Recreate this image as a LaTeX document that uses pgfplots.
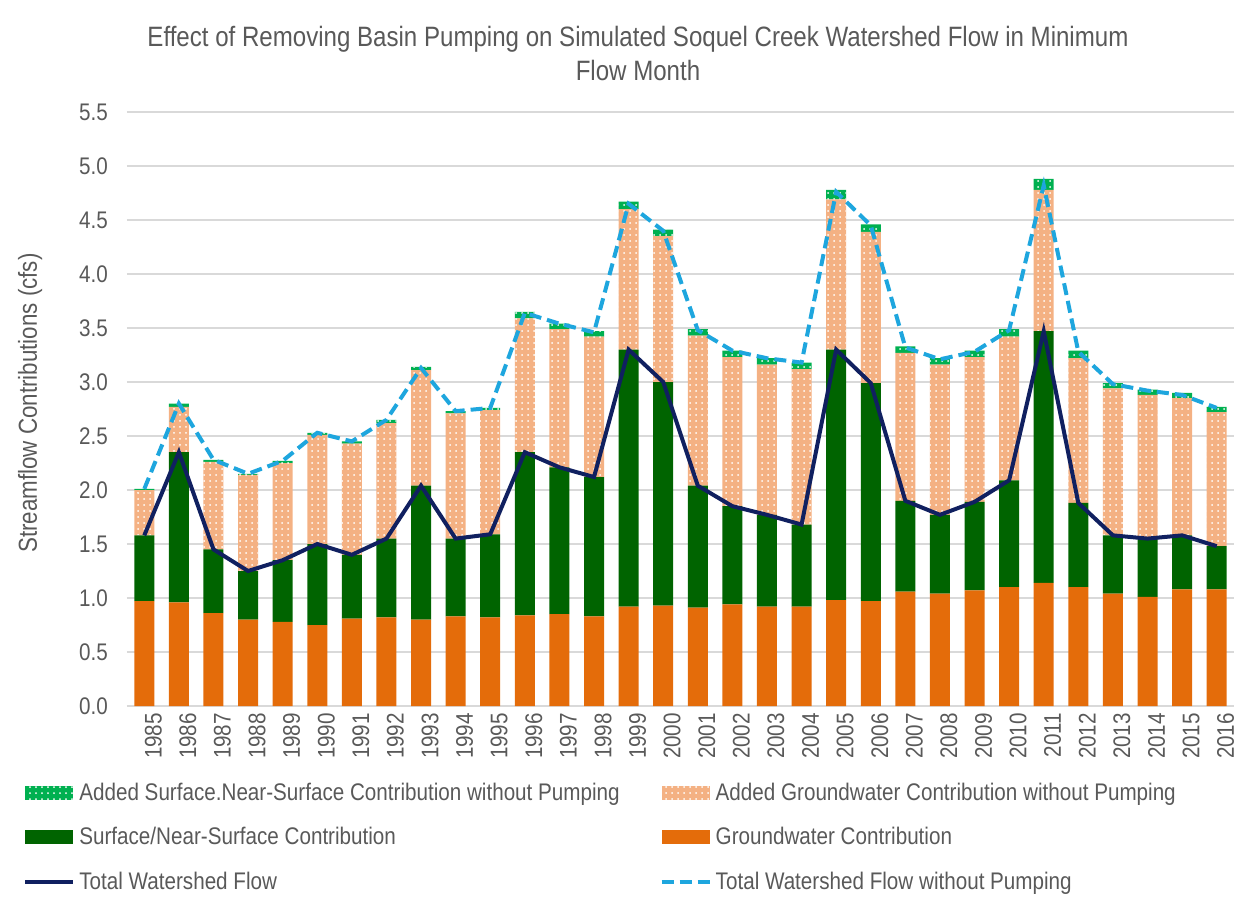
\documentclass[border=0pt]{standalone}
\usepackage{pgfplots}
\pgfplotsset{compat=1.18}
\usepackage{pgfplotstable}
\usetikzlibrary{patterns}
\usepackage{fontspec}
\setmainfont{Liberation Sans}[FakeStretch=0.86]

\definecolor{gwc}{RGB}{228,108,10}
\definecolor{swc}{RGB}{0,100,0}
\definecolor{peach}{RGB}{244,177,131}
\definecolor{addswc}{RGB}{0,176,80}
\definecolor{navy}{RGB}{16,32,96}
\definecolor{dashc}{RGB}{30,166,222}
\definecolor{txt}{RGB}{89,89,89}
\definecolor{gridc}{RGB}{217,217,217}

\pgfplotsset{
  barleg/.style={legend image code/.code={\fill[##1] (0pt,-3.5pt) rectangle (24pt,3.5pt);}},
  lineleg/.style={legend image code/.code={\draw[##1] (0pt,0pt) -- (24pt,0pt);}},
}

\pgfplotstableread{
x gw sw addgw addsw total nopump
0 0.97 0.61 0.42 0.01 1.58 2.01
1 0.96 1.39 0.42 0.03 2.35 2.80
2 0.86 0.59 0.81 0.02 1.45 2.28
3 0.80 0.45 0.89 0.01 1.25 2.15
4 0.78 0.57 0.90 0.02 1.35 2.27
5 0.75 0.75 1.01 0.02 1.50 2.53
6 0.81 0.59 1.03 0.02 1.40 2.45
7 0.82 0.73 1.07 0.03 1.55 2.65
8 0.80 1.24 1.07 0.03 2.04 3.13
9 0.83 0.72 1.16 0.02 1.55 2.73
10 0.82 0.77 1.15 0.02 1.59 2.76
11 0.84 1.51 1.24 0.06 2.35 3.64
12 0.85 1.36 1.28 0.05 2.21 3.54
13 0.83 1.29 1.30 0.05 2.12 3.46
14 0.92 2.38 1.30 0.07 3.30 4.65
15 0.93 2.07 1.35 0.06 3.00 4.40
16 0.91 1.13 1.39 0.06 2.04 3.48
17 0.94 0.91 1.38 0.06 1.85 3.29
18 0.92 0.85 1.39 0.06 1.77 3.22
19 0.92 0.76 1.44 0.06 1.68 3.18
20 0.98 2.32 1.39 0.09 3.30 4.76
21 0.97 2.02 1.40 0.07 2.99 4.45
22 1.06 0.84 1.37 0.06 1.90 3.32
23 1.04 0.73 1.39 0.06 1.77 3.21
24 1.07 0.82 1.34 0.06 1.89 3.28
25 1.10 0.99 1.33 0.07 2.09 3.48
26 1.14 2.33 1.31 0.10 3.47 4.82
27 1.10 0.78 1.34 0.07 1.88 3.28
28 1.04 0.54 1.36 0.05 1.58 2.98
29 1.01 0.54 1.33 0.05 1.55 2.92
30 1.08 0.50 1.27 0.05 1.58 2.88
31 1.08 0.40 1.24 0.05 1.48 2.76
}\data

\begin{document}
\begin{tikzpicture}[x=1pt,y=1pt]
\path[use as bounding box] (0,0) rectangle (625,453.5);
\node[text=txt, font=\fontsize{14}{17}\selectfont, align=center] at (319,427) {Effect of Removing Basin Pumping on Simulated Soquel Creek Watershed Flow in Minimum\\Flow Month};
\begin{axis}[
  at={(63.5pt,100.5pt)}, anchor=south west,
  scale only axis, width=553.5pt, height=297pt,
  ybar stacked, bar width=10pt,
  xmin=-0.5, xmax=31.5, ymin=0, ymax=5.5,
  ytick={0,0.5,1,1.5,2,2.5,3,3.5,4,4.5,5,5.5},
  xtick={0,...,31},
  xticklabels={1985,1986,1987,1988,1989,1990,1991,1992,1993,1994,1995,1996,1997,1998,1999,2000,2001,2002,2003,2004,2005,2006,2007,2008,2009,2010,2011,2012,2013,2014,2015,2016},
  ymajorgrids, grid style={draw=gridc, line width=0.8pt},
  axis line style={draw=none}, tick style={draw=none},
  major tick length=0pt,
  yticklabel style={text=txt, font=\fontsize{12}{14}\selectfont, xshift=-6pt},
  xticklabel style={rotate=90, anchor=east, text=txt, font=\fontsize{12}{14}\selectfont, yshift=-4.5pt},
  /pgf/number format/.cd, fixed, fixed zerofill, precision=1, assume math mode=true,
  /pgfplots/.cd,
  ylabel={Streamflow Contributions (cfs)},
  every axis y label/.style={at={(axis description cs:-0.0876,0.51)}, rotate=90, anchor=center, text=txt, font=\fontsize{13}{15}\selectfont},
  legend columns=2,
  legend cell align=left,
  legend style={at={(-0.094,-0.122)}, anchor=north west, draw=none, fill=none,
    font=\fontsize{12}{14}\selectfont, text=txt, inner sep=0pt, row sep=8pt,
    /tikz/every even column/.append style={column sep=18pt}},
]
\addlegendimage{fill=addswc, draw=none, postaction={pattern=dots, pattern color=white}, barleg}
\addlegendentry{Added Surface.Near-Surface Contribution without Pumping}
\addlegendimage{fill=peach, draw=none, postaction={pattern=dots, pattern color=white}, barleg}
\addlegendentry{Added Groundwater Contribution without Pumping}
\addlegendimage{fill=swc, draw=none, barleg}
\addlegendentry{Surface/Near-Surface Contribution}
\addlegendimage{fill=gwc, draw=none, barleg}
\addlegendentry{Groundwater Contribution}
\addlegendimage{draw=navy, line width=2pt, lineleg}
\addlegendentry{Total Watershed Flow}
\addlegendimage{draw=dashc, line width=2pt, dash pattern=on 6pt off 3pt, lineleg}
\addlegendentry{Total Watershed Flow without Pumping}

\addplot[fill=gwc, draw=none] table[x=x, y=gw]{\data};
\addplot[fill=swc, draw=none] table[x=x, y=sw]{\data};
\addplot[fill=peach, draw=none, postaction={pattern=dots, pattern color=white}] table[x=x, y=addgw]{\data};
\addplot[fill=addswc, draw=none, postaction={pattern=dots, pattern color=white}] table[x=x, y=addsw]{\data};
\end{axis}
\begin{axis}[
  at={(63.5pt,100.5pt)}, anchor=south west,
  scale only axis, width=553.5pt, height=297pt,
  xmin=-0.5, xmax=31.5, ymin=0, ymax=5.5,
  hide axis,
]
\addplot[draw=navy, line width=2pt, mark=none] table[x=x, y=total]{\data};
\addplot[draw=dashc, line width=2pt, dash pattern=on 6pt off 3pt, mark=none] table[x=x, y=nopump]{\data};
\end{axis}
\end{tikzpicture}
\end{document}
